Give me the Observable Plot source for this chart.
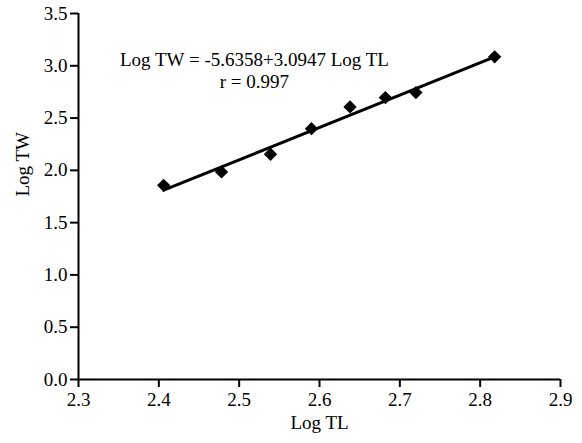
<!DOCTYPE html>
<html>
<head>
<meta charset="utf-8">
<script src="https://cdn.jsdelivr.net/npm/d3@7"></script>
<script src="https://cdn.jsdelivr.net/npm/@observablehq/plot@0.6"></script>
<style>
  html, body { margin: 0; padding: 0; background: #fff; }
  svg { display: block; }
  svg text { font-family: "Liberation Serif", "Times New Roman", serif !important; }
</style>
</head>
<body>
<div id="chart"></div>
<script>
const logTL = [2.406, 2.478, 2.539, 2.590, 2.638, 2.682, 2.720, 2.818];
const logTW = [1.857, 1.985, 2.154, 2.399, 2.607, 2.696, 2.744, 3.086];
const intercept = -5.6358;
const slope = 3.0947;
const xTicks = [2.3, 2.4, 2.5, 2.6, 2.7, 2.8, 2.9];
const yTicks = [0, 0.5, 1.0, 1.5, 2.0, 2.5, 3.0, 3.5];
const annotations = [
  {x: 2.519, y: 3.055, text: "Log TW = -5.6358+3.0947 Log TL"},
  {x: 2.519, y: 2.85, text: "r = 0.997"}
];

const points = logTL.map((x, i) => ({x, y: logTW[i]}));
const xMin = d3.min(logTL), xMax = d3.max(logTL);
const fit = [xMin, xMax].map(x => ({x, y: intercept + slope * x}));

const font = "'Liberation Serif', 'Times New Roman', serif";

const chart = Plot.plot({
  width: 582,
  height: 443,
  marginLeft: 78,
  marginRight: 22,
  marginTop: 13,
  marginBottom: 64,
  style: {fontFamily: font, fontSize: "19px", color: "#000", background: "#fff"},
  x: {domain: [2.3, 2.9]},
  y: {domain: [0, 3.5]},
  marks: [
    Plot.axisX({ticks: xTicks, tickFormat: d3.format(".1f"), tickSize: 8, tickPadding: 5, strokeWidth: 2, label: null, fontSize: 19, fontFamily: font, fontVariant: "normal"}),
    Plot.axisY({ticks: yTicks, tickFormat: d3.format(".1f"), tickSize: 8, tickPadding: 3, strokeWidth: 2, label: null, fontSize: 19, fontFamily: font, fontVariant: "normal"}),
    Plot.ruleX([2.3], {strokeWidth: 2}),
    Plot.ruleY([0], {strokeWidth: 2}),
    Plot.line(fit, {x: "x", y: "y", stroke: "#000", strokeWidth: 3}),
    Plot.dot(points, {x: "x", y: "y", symbol: "diamond2", r: 6, fill: "#000", stroke: "none"}),
    Plot.text(annotations, {x: "x", y: "y", text: "text", fontSize: 19, fontFamily: font, textAnchor: "middle", fill: "#000"}),
    Plot.text(["Log TW"], {frameAnchor: "left", dx: -56, rotate: -90, fontSize: 19, fontFamily: font, fill: "#000"}),
    Plot.text(["Log TL"], {frameAnchor: "bottom", dy: 49, fontSize: 19, fontFamily: font, fill: "#000"})
  ]
});
document.getElementById("chart").appendChild(chart);
</script>
</body>
</html>
